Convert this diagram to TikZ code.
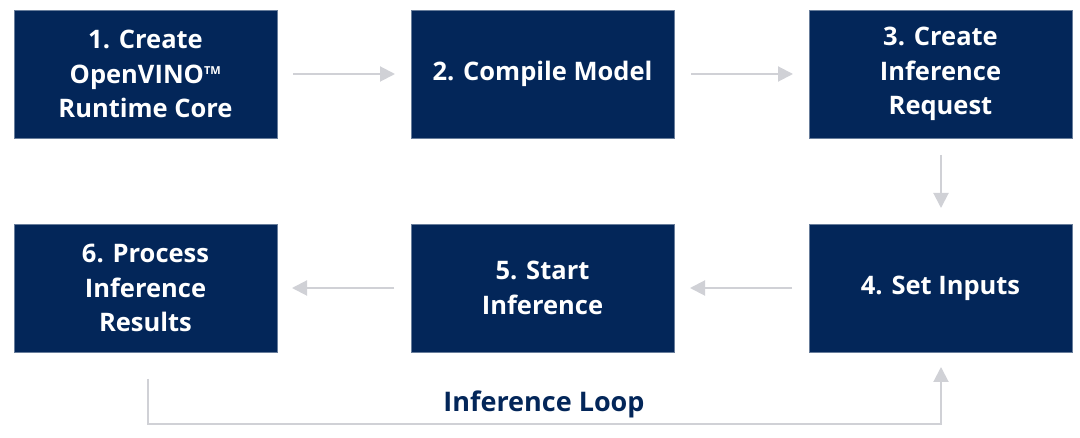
\documentclass[tikz,border=0pt]{standalone}
\usepackage{fontspec}
\setmainfont{Open Sans}
\usetikzlibrary{arrows.meta}
\definecolor{navy}{RGB}{3,38,89}
\definecolor{arrowgray}{RGB}{208,209,214}
\begin{document}
\begin{tikzpicture}[x=1pt,y=-1pt,
  stepbox/.style={fill=navy,draw=navy!60!white,line width=0.6pt,minimum width=263pt,minimum height=128pt,inner sep=0pt,
    text=white,font=\fontsize{25.5}{34.5}\selectfont\bfseries,align=center},
  flow/.style={draw=arrowgray,line width=2pt,-{Triangle[length=15pt,width=15pt]}},
  loopline/.style={draw=arrowgray,line width=2pt}]
\useasboundingbox (0,0) rectangle (1080,438);
\node[stepbox] (b1) at (145.5,74) {1. Create\\OpenVINO\textsuperscript{\fontsize{11}{11}\selectfont TM}\\Runtime Core};
\node[stepbox] (b2) at (542.5,74) {2. Compile Model};
\node[stepbox] (b3) at (940.5,74) {3. Create\\Inference\\Request};
\node[stepbox] (b4) at (940.5,288) {4. Set Inputs};
\node[stepbox] (b5) at (542.5,288) {5. Start\\Inference};
\node[stepbox] (b6) at (145.5,288) {6. Process\\Inference\\Results};
\coordinate (a12s) at (293,74); \coordinate (a12e) at (395,74);
\coordinate (a23s) at (691,74); \coordinate (a23e) at (793,74);
\coordinate (a34s) at (941,155); \coordinate (a34e) at (941,208);
\coordinate (a45s) at (792,288); \coordinate (a45e) at (690,288);
\coordinate (a56s) at (394,288); \coordinate (a56e) at (292,288);
\draw[flow] (a12s) -- (a12e);
\draw[flow] (a23s) -- (a23e);
\draw[flow] (a34s) -- (a34e);
\draw[flow] (a45s) -- (a45e);
\draw[flow] (a56s) -- (a56e);
\coordinate (l1) at (148,379);
\coordinate (l2) at (148,424);
\coordinate (l3) at (941,424);
\coordinate (l4) at (941,367);
\draw[flow] (l1) -- (l2) -- (l3) -- (l4);
\node[text=navy,font=\fontsize{27}{30}\selectfont\bfseries] (loop) at (544,404) {Inference Loop};
\end{tikzpicture}
\end{document}
